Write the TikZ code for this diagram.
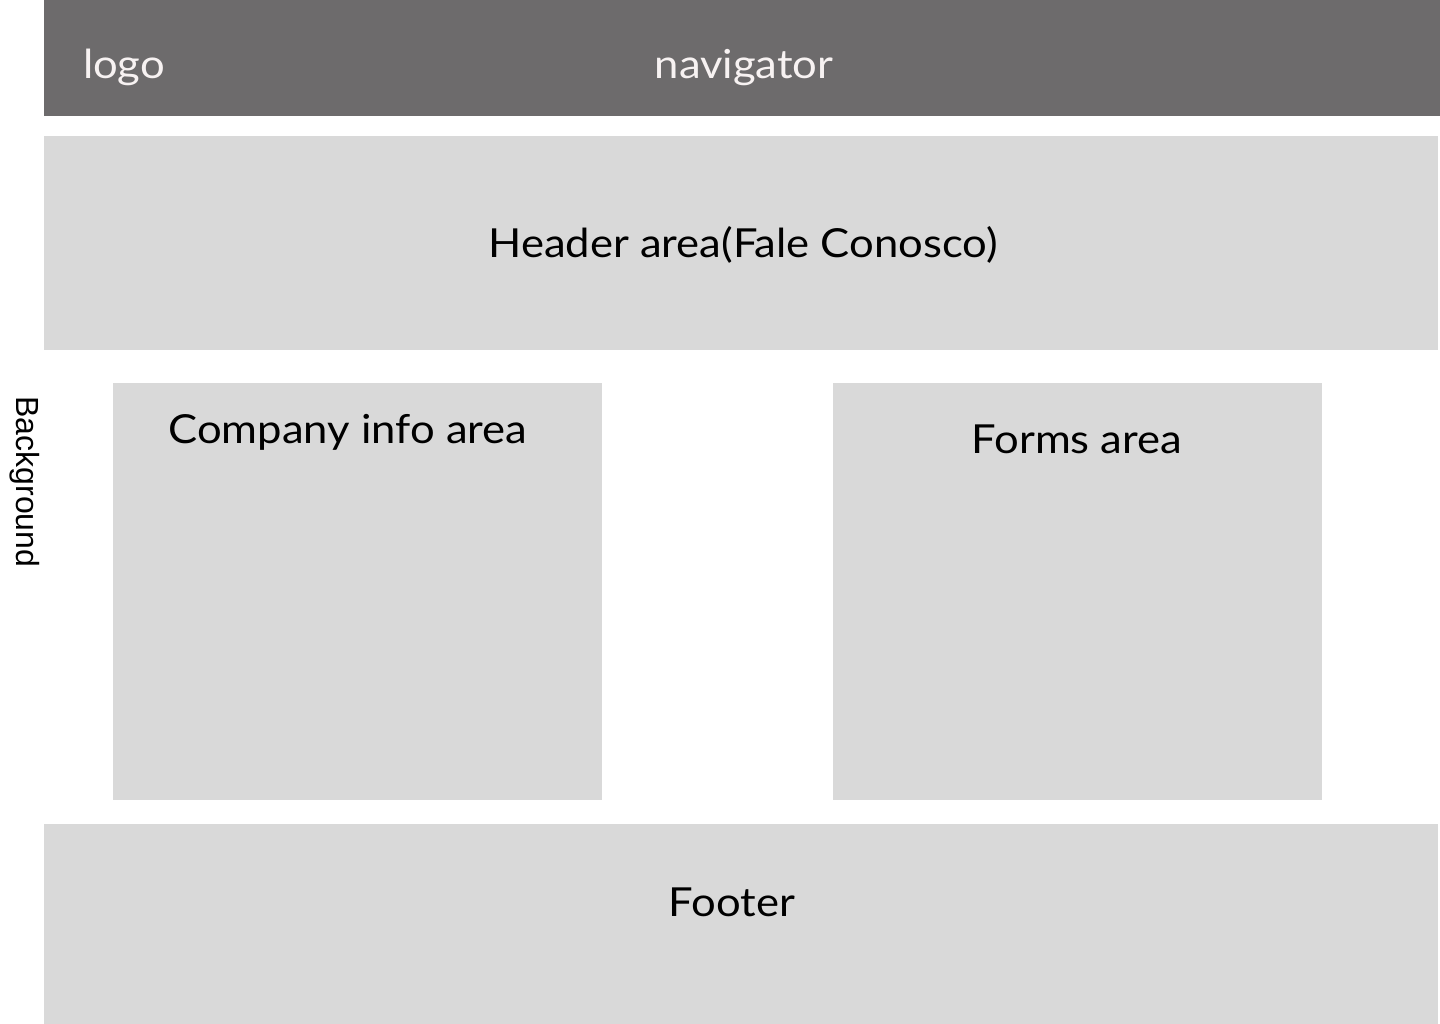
\documentclass[tikz,border=0pt]{standalone}
\usepackage{fontspec}
\setmainfont{Lato}[FakeStretch=1.09]
\newfontfamily\bgfont{Liberation Sans}
\definecolor{barcol}{HTML}{6D6B6C}
\definecolor{boxcol}{HTML}{D9D9D9}
\definecolor{bartext}{HTML}{F7F2F2}
\begin{document}
\begin{tikzpicture}[x=1pt,y=-1pt,
  area/.style={fill=boxcol,draw=none},
  lbl/.style={anchor=base,inner sep=0pt,font=\fontsize{40}{48}\selectfont,text=black},
  barlbl/.style={lbl,text=bartext}]
\useasboundingbox (0,0) rectangle (1440,1024);
\fill[white] (0,0) rectangle (1440,1024);
\fill[barcol] (44,0) rectangle (1440,116);
\fill[boxcol] (44,136) rectangle (1438,350);
\fill[boxcol] (113,383) rectangle (602,800);
\fill[boxcol] (833,383) rectangle (1322,800);
\fill[boxcol] (44,824) rectangle (1438,1024);
\node[barlbl] (logo) at (124,79) {logo};
\node[barlbl] (nav) at (744,79) {navigator};
\node[lbl] (header) at (743,258) {Header area(Fale Conosco)};
\node[lbl] (company) at (348,443) {Company info area};
\node[lbl] (forms) at (1077,453) {Forms area};
\node[lbl] (footer) at (732,916) {Footer};
\node[rotate=-90,inner sep=0pt,font=\bgfont\fontsize{32}{36}\selectfont] (bg) at (25,482) {Background};
\end{tikzpicture}
\end{document}
